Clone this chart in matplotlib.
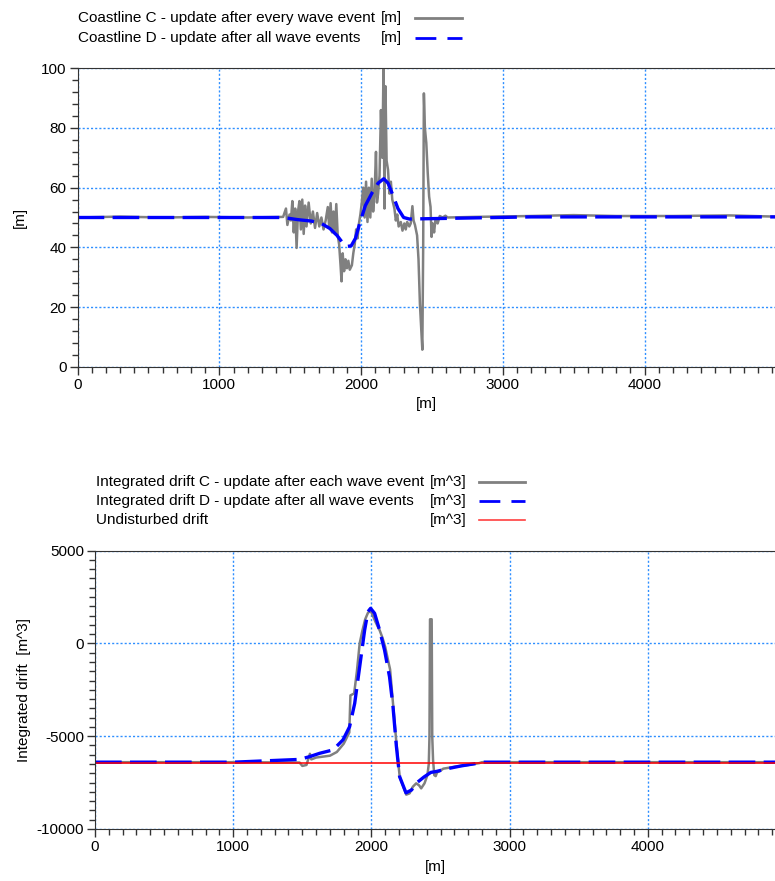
import matplotlib.pyplot as plt
from matplotlib.lines import Line2D
from matplotlib.ticker import MultipleLocator

plt.rcParams['font.family'] = ['Liberation Sans', 'DejaVu Sans']
plt.rcParams['axes.unicode_minus'] = False

# ---- top chart: coastline position ----
coast_c_x = [0, 300, 600, 900, 1200, 1450, 1470, 1480, 1495, 1505, 1515, 1525, 1535, 1545,
             1555, 1565, 1575, 1585, 1595, 1605, 1615, 1630, 1645, 1660, 1675, 1690, 1705,
             1720, 1735, 1750, 1765, 1775, 1785, 1795, 1805, 1815, 1825, 1835, 1845, 1855,
             1862, 1870, 1880, 1890, 1900, 1910, 1920, 1935, 1945, 1955, 1965, 1975, 1985,
             1995, 2005, 2015, 2025, 2035, 2045, 2055, 2065, 2075, 2085, 2095, 2105, 2112,
             2120, 2130, 2140, 2150, 2158, 2165, 2172, 2180, 2190, 2200, 2210, 2220, 2235,
             2245, 2255, 2265, 2280, 2292, 2305, 2315, 2325, 2340, 2350, 2362, 2370, 2380,
             2395, 2405, 2415, 2425, 2432, 2438, 2443, 2450, 2460, 2470, 2480, 2490, 2497,
             2505, 2515, 2525, 2540, 2555, 2575, 2595, 2610, 2800, 3200, 3500, 3800, 4200,
             4600, 4920]
coast_c_y = [50, 50.3, 50, 50.2, 50, 50.2, 53, 47.5, 51, 49, 55.5, 45, 53, 39.8,
             52, 55.5, 46, 56, 44.5, 54, 47, 55, 48, 52, 46.5, 51.5, 47,
             50, 46, 49, 53.5, 46.5, 54.8, 45, 52, 44.5, 54.5, 44, 41, 34,
             28.6, 38, 32, 36, 33, 35.5, 32.5, 34, 38, 41, 46, 43, 48,
             51, 55, 60, 50, 62, 48.5, 60, 50, 63, 52, 58, 72, 55,
             58, 64, 86, 70, 100, 53, 94, 69, 66, 58, 62, 56, 53,
             49, 51, 47, 48.5, 45.6, 48, 46, 48.5, 47, 48, 53.8, 49, 47.5,
             44, 36, 21, 12, 5.7, 40, 91.6, 80, 75, 65, 57, 53.5, 43.5,
             48, 45, 49.5, 48, 50.5, 50, 50.6, 50, 50.2, 50.5, 50.8, 50.5, 50.5,
             50.7, 50.3]

coast_d_x = [0, 1450, 1550, 1650, 1720, 1780, 1830, 1870, 1900, 1930, 1960, 1990, 2030,
             2080, 2120, 2160, 2190, 2220, 2260, 2300, 2340, 2600, 3200, 4920]
coast_d_y = [50, 50, 49.3, 48.8, 48.0, 46.3, 44, 41.5, 40.3, 40.5, 43, 48, 54,
             58.5, 61.5, 63, 61.5, 58, 53, 50, 49.5, 49.7, 50.2, 50.2]

# ---- bottom chart: integrated drift ----
drift_c_x = [0, 500, 1000, 1480, 1500, 1530, 1555, 1565, 1600, 1650, 1700, 1750, 1800,
             1840, 1848, 1875, 1895, 1915, 1935, 1955, 1975, 1995, 2010, 2030, 2060, 2080,
             2100, 2120, 2135, 2150, 2165, 2180, 2195, 2205, 2230, 2252, 2276, 2300, 2324,
             2345, 2360, 2384, 2405, 2415, 2420, 2424, 2436, 2440, 2446, 2455, 2465, 2475,
             2490, 2520, 2600, 2700, 2780, 2800, 3500, 4200, 4920]
drift_c_y = [-6400, -6400, -6400, -6420, -6600, -6550, -5950, -6250, -6150, -6100, -6050,
             -5850, -5400, -4800, -2800, -2700, -1500, 0, 700, 1300, 1650, 1750, 1500, 1150,
             700, 300, -200, -900, -1400, -2700, -4000, -5300, -6500, -7200, -7700, -8150,
             -8080, -7720, -7540, -7650, -7810, -7540, -7100, -6500, -5000, 1300, 1300, -5000,
             -6300, -7100, -7150, -6950, -6900, -6750, -6650, -6550, -6450, -6400, -6400,
             -6400, -6400]

drift_d_x = [0, 1000, 1481, 1553, 1626, 1722, 1794, 1842, 1879, 1915, 1951, 1975, 1994,
             2023, 2059, 2095, 2131, 2156, 2180, 2204, 2250, 2290, 2330, 2380, 2430, 2470,
             2550, 2650, 2750, 2800, 4920]
drift_d_y = [-6400, -6400, -6250, -6100, -5920, -5740, -5200, -4490, -3230, -1260, 720,
             1710, 1890, 1620, 720, -360, -1800, -3400, -5500, -7180, -8050, -7900, -7500,
             -7200, -6950, -6900, -6750, -6600, -6480, -6400, -6400]

undisturbed_x = [0, 4920]
undisturbed_y = [-6430, -6430]

W, H = 775, 881
fig = plt.figure(figsize=(W / 100, H / 100), dpi=100)

grid_kw = dict(color='#2F8FFF', linestyle=(0, (1.5, 1.5)), linewidth=1)
gray_kw = dict(color='#808080', linewidth=1.8)
blue_kw = dict(color='#0000FF', linewidth=2.4, dashes=(8, 2.5))


def style_axes(ax, xmax):
    ax.set_xlim(0, xmax)
    ax.xaxis.set_major_locator(MultipleLocator(1000))
    ax.xaxis.set_minor_locator(MultipleLocator(100))
    ax.grid(True, which='major', **grid_kw)
    ax.spines['right'].set_visible(False)
    for s in ('left', 'bottom', 'top'):
        ax.spines[s].set_color('#333333')
    ax.tick_params(which='major', direction='out', length=6, width=1, labelsize=11,
                   color='#333333', pad=2)
    ax.tick_params(which='minor', direction='out', length=4, width=1, color='#333333')
    ax.tick_params(axis='x', which='both', top=False)


# top axes
ax1 = fig.add_axes([77.6 / W, 1 - 366.7 / H, 1 - 77.6 / W, (366.7 - 68.3) / H])
ax1.plot(coast_c_x, coast_c_y, **gray_kw)
ax1.plot(coast_d_x, coast_d_y, **blue_kw)
style_axes(ax1, 4920)
ax1.set_ylim(0, 100)
ax1.yaxis.set_major_locator(MultipleLocator(20))
ax1.yaxis.set_minor_locator(MultipleLocator(4))
ax1.set_xlabel('[m]', fontsize=11, labelpad=4)
ax1.set_ylabel('[m]', fontsize=11, labelpad=10)

# bottom axes
ax2 = fig.add_axes([95 / W, 1 - 829 / H, 1 - 95 / W, (829 - 550.6) / H])
ax2.plot(drift_c_x, drift_c_y, **gray_kw)
ax2.plot(drift_d_x, drift_d_y, **blue_kw)
ax2.plot(undisturbed_x, undisturbed_y, color='#FF0000', linewidth=1.1)
style_axes(ax2, 4920)
ax2.set_ylim(-10000, 5000)
ax2.yaxis.set_major_locator(MultipleLocator(5000))
ax2.yaxis.set_minor_locator(MultipleLocator(500))
ax2.set_xlabel('[m]', fontsize=11, labelpad=4)
ax2.set_ylabel('Integrated drift  [m^3]', fontsize=11, labelpad=4)


# legends drawn in figure pixel positions
def legend_row(text, unit, y, x_text, x_unit, x0, x1, style):
    fig.text(x_text / W, 1 - y / H, text, fontsize=11, va='center', ha='left')
    fig.text(x_unit / W, 1 - y / H, unit, fontsize=11, va='center', ha='right')
    fig.add_artist(Line2D([x0 / W, x1 / W], [1 - y / H, 1 - y / H],
                          transform=fig.transFigure, **style))


leg_gray = dict(color='#808080', linewidth=2)
leg_blue = dict(color='#0000FF', linewidth=2, dashes=(7.5, 4))
leg_red = dict(color='#FF4040', linewidth=1.2)

legend_row('Coastline C - update after every wave event', '[m]', 18, 78, 402, 415, 462, leg_gray)
legend_row('Coastline D - update after all wave events', '[m]', 38, 78, 402, 415, 462, leg_blue)

legend_row('Integrated drift C - update after each wave event', '[m^3]', 482, 96, 467, 479, 525, leg_gray)
legend_row('Integrated drift D - update after all wave events', '[m^3]', 501, 96, 467, 479, 525, leg_blue)
legend_row('Undisturbed drift', '[m^3]', 520, 96, 467, 479, 525, leg_red)

fig.savefig('out.png', dpi=100)
